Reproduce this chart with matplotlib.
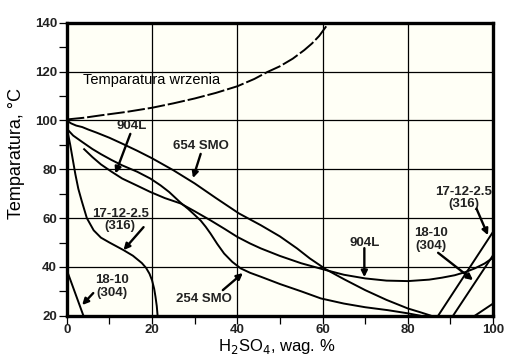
import matplotlib
matplotlib.use("Agg")
import matplotlib.pyplot as plt
from matplotlib.ticker import MultipleLocator

plt.rcParams['font.family'] = ['Liberation Sans', 'DejaVu Sans']

# --- data ---
boil_x = [0, 4, 8, 14, 20, 25, 30, 35, 40, 44, 47, 50, 53, 55.7, 57.5, 59.2, 61]
boil_y = [100.4, 101.1, 102.1, 103.5, 105.2, 107, 109, 111.3, 114, 117, 119.8, 122.2, 125.3, 128.8, 131.5, 134.6, 138.9]

smo654_x = [0, 1, 2.2, 3.6, 5, 7, 10, 13, 16.5, 20, 25, 30, 35, 40.4, 45.5, 50, 54, 57, 60.8, 65, 70, 75, 80, 83, 85.5]
smo654_y = [100, 98.8, 97.9, 97.3, 96.3, 95, 92.9, 90.5, 87.6, 84.5, 79.6, 74.2, 68.2, 61.9, 57.1, 52.5, 47.6, 43.5, 39, 35, 30.5, 26.5, 23, 21.4, 20]

smo254_x = [0, 1.5, 3.6, 6, 8, 10.5, 13, 16.5, 19.6, 22, 24, 26.7, 28.5, 30, 31.4, 32.6, 33.7, 35.3, 36.9, 38.8, 40.8, 43, 45.5, 50, 55, 59.6, 65, 70, 75.3, 80, 83]
smo254_y = [96.6, 93.8, 91.2, 88.3, 86.2, 83.8, 81.6, 79.0, 76.2, 73.4, 70.7, 66.3, 63.7, 61.3, 59, 56.4, 53.7, 49.4, 45.5, 42.1, 39.4, 37.6, 36, 33, 30, 27.1, 25, 23.5, 22.3, 21, 20]

l904_x = [3.9, 6, 8, 10.5, 13, 16.5, 19.6, 23, 26.7, 30, 33.7, 37, 40, 43, 45.5, 50, 55, 60.8, 65, 70, 75, 80, 85, 88, 91, 93.5, 95.7, 98, 100]
l904_y = [88.5, 85, 82, 79, 76.2, 73.3, 70.7, 68.2, 66, 62.8, 59.1, 55.6, 52.3, 49.6, 47.6, 44.5, 41.5, 38.7, 36.8, 35.3, 34.4, 34.2, 34.8, 35.6, 36.6, 37.9, 39.4, 41.4, 43.8]

s316a_x = [0, 0.8, 1.4, 2, 2.7, 3.5, 4.7, 6.3, 8, 10, 13.3, 15.5, 17.6, 18.6, 19.4, 20, 20.5, 20.8, 21.1, 21.3]
s316a_y = [97, 90, 84, 78, 72, 67, 60, 55, 52, 50, 46.9, 44.6, 41.6, 39.6, 37.2, 34.5, 31, 27.8, 24, 20]
s316b_x = [87.1, 100]
s316b_y = [20, 54.4]

s304a_x = [0, 3.9]
s304a_y = [38.7, 20]
s304b_x = [90.6, 100]
s304b_y = [20, 44.8]

extra_x = [95.7, 100]
extra_y = [20, 25]

x_ticks = [0, 20, 40, 60, 80, 100]
y_ticks = [20, 40, 60, 80, 100, 120, 140]

fig = plt.figure(figsize=(5.22, 3.56), dpi=100)
fig.patch.set_facecolor('white')
ax = fig.add_axes([0.128, 0.113, 0.8166, 0.823])
ax.set_facecolor('#fffff6')

ax.set_xlim(0, 100)
ax.set_ylim(20, 140)
ax.set_xticks(x_ticks)
ax.set_yticks(y_ticks)
ax.xaxis.set_minor_locator(MultipleLocator(10))
ax.yaxis.set_minor_locator(MultipleLocator(10))
ax.grid(True, which='major', color='black', linewidth=0.9)
ax.set_axisbelow(True)
for s in ax.spines.values():
    s.set_linewidth(2.4)
ax.tick_params(which='both', direction='out', length=5.5, width=0.9, pad=1.5)
ax.tick_params(axis='x', which='both', pad=0.5)
for lab in ax.get_xticklabels() + ax.get_yticklabels():
    lab.set_fontweight('bold')
    lab.set_fontsize(9.5)
    lab.set_color('#222222')

lw = 1.4
ax.plot(boil_x, boil_y, color='black', lw=1.4, ls=(0, (9, 1.5)))
for xs, ys in [(smo654_x, smo654_y), (smo254_x, smo254_y), (l904_x, l904_y),
               (s316a_x, s316a_y), (s316b_x, s316b_y), (s304a_x, s304a_y),
               (s304b_x, s304b_y), (extra_x, extra_y)]:
    ax.plot(xs, ys, color='black', lw=lw, solid_capstyle='butt', solid_joinstyle='round')

fig.text(17 / 522, 1 - 153.5 / 356, 'Temparatura, °C', fontsize=13, rotation=90,
         ha='center', va='center')
fig.text(277 / 522, 1 - 351 / 356, 'H$_2$SO$_4$, wag. %', fontsize=12,
         ha='center', va='baseline')

ax.text(3.9, 116.7, 'Temparatura wrzenia', fontsize=10.5, ha='left', va='center')

bold = dict(fontsize=9.5, fontweight='bold', ha='center', va='center', color='#222222', linespacing=1.05)
ap = dict(arrowstyle='-|>', color='black', lw=1.7, mutation_scale=9, shrinkA=0, shrinkB=0)

ax.text(15.3, 97.6, '904L', **bold)
ax.annotate('', xy=(11.4, 78.3), xytext=(14.9, 94.5), arrowprops=ap)
ax.text(31.4, 89.5, '654 SMO', **bold)
ax.annotate('', xy=(29.6, 76.4), xytext=(31.4, 86.3), arrowprops=ap)
ax.text(12.5, 59.3, '17-12-2.5\n(316)', **bold)
ax.annotate('', xy=(13.3, 46.9), xytext=(18.0, 56.3), arrowprops=ap)
ax.text(10.6, 32.0, '18-10\n(304)', **bold)
ax.annotate('', xy=(3.6, 24.4), xytext=(6.2, 29.3), arrowprops=ap)
ax.text(32.1, 26.7, '254 SMO', **bold)
ax.annotate('', xy=(41.3, 37.5), xytext=(36.6, 30.5), arrowprops=ap)
ax.text(69.8, 49.9, '904L', **bold)
ax.annotate('', xy=(69.8, 35.8), xytext=(69.8, 47.7), arrowprops=ap)
ax.text(93.1, 68.2, '17-12-2.5\n(316)', **bold)
ax.annotate('', xy=(98.8, 53.0), xytext=(96.1, 63.9), arrowprops=ap)
ax.text(85.5, 51.2, '18-10\n(304)', **bold)
ax.annotate('', xy=(95.3, 34.6), xytext=(87.1, 45.8), arrowprops=ap)

fig.savefig('out.png', dpi=100, facecolor=fig.get_facecolor())
